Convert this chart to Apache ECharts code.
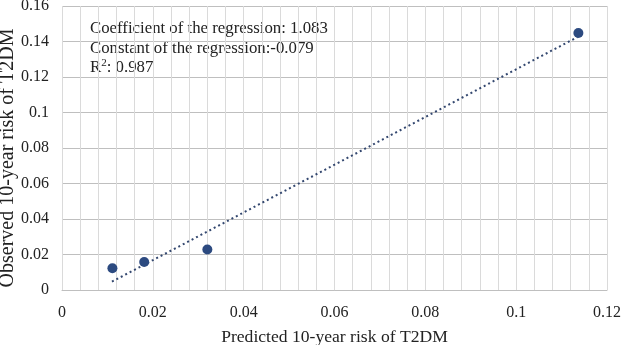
<!DOCTYPE html>
<html>
<head>
<meta charset="utf-8">
<script src="https://cdn.jsdelivr.net/npm/echarts@6/dist/echarts.min.js"></script>
<style>
html, body { margin: 0; padding: 0; background: #fff; }
#main { width: 621px; height: 345px; }
</style>
</head>
<body>
<div id="main"></div>
<script>
// predicted vs observed 10-year risk
var predicted = [0.0111, 0.0181, 0.0320, 0.1137];
var observed = [0.0123, 0.0158, 0.0228, 0.1448];
// ends of the dotted trend line
var trendX = [0.011, 0.1135];
var trendY = [0.0047, 0.1425];
var xTicks = [0, 0.02, 0.04, 0.06, 0.08, 0.1, 0.12];
var yTicks = [0, 0.02, 0.04, 0.06, 0.08, 0.1, 0.12, 0.14, 0.16];

var pts = [];
for (var i = 0; i < predicted.length; i++) {
	pts.push([predicted[i], observed[i]]);
}
var trend = [];
for (var j = 0; j < trendX.length; j++) {
	trend.push([trendX[j], trendY[j]]);
}

var serif = '"Liberation Serif", "DejaVu Serif", serif';
var chart = echarts.init(document.getElementById('main'));
chart.setOption({
	animation: false,
	grid: {
		left: 62,
		right: 14,
		top: 6,
		bottom: 55,
		outerBoundsMode: 'none',
		containLabel: false
	},
	xAxis: {
		type: 'value',
		min: 0,
		max: 0.12,
		interval: 0.02,
		name: 'Predicted 10-year risk of T2DM',
		nameLocation: 'middle',
		nameGap: 38,
		nameMoveOverlap: false,
		nameTextStyle: { fontFamily: serif, fontSize: 17.6, color: '#222' },
		axisLine: { show: true, lineStyle: { color: '#bfbfbf', width: 1 } },
		axisTick: { show: false },
		axisLabel: {
			fontFamily: serif, fontSize: 16, color: '#222', margin: 15,
			formatter: function(v) {
				return xTicks.indexOf(+v.toFixed(2)) >= 0 ? String(+v.toFixed(2)) : '';
			}
		},
		splitLine: { show: true, lineStyle: { color: '#dadada', width: 1 } },
		minorTick: { show: false, splitNumber: 5 },
		minorSplitLine: { show: true, lineStyle: { color: '#dadada', width: 1 } }
	},
	yAxis: {
		type: 'value',
		min: 0,
		max: 0.16,
		interval: 0.02,
		axisLine: { show: false },
		axisTick: { show: false },
		axisLabel: {
			fontFamily: serif, fontSize: 16, color: '#222', margin: 13,
			formatter: function(v) {
				return yTicks.indexOf(+v.toFixed(2)) >= 0 ? String(+v.toFixed(2)) : '';
			}
		},
		splitLine: { show: true, lineStyle: { color: '#bfbfbf', width: 1 } }
	},
	graphic: [{
		type: 'text',
		left: 90,
		top: 19,
		style: {
			text: 'Coefficient of the regression: 1.083\nConstant of the regression:-0.079\n{r|R}{sup|2}{r|: 0.987}',
			font: '16.8px ' + serif,
			fill: '#222',
			lineHeight: 19.5,
			rich: {
				r: { fontFamily: serif, fontSize: 16.8, fill: '#222', lineHeight: 19.5 },
				sup: { fontFamily: serif, fontSize: 11, fill: '#222', verticalAlign: 'top', padding: [0, 0, 6, 0], lineHeight: 19.5 }
			}
		}
	}, {
		// y axis title
		type: 'text',
		x: 8,
		y: 158,
		rotation: Math.PI / 2,
		style: {
			text: 'Observed 10-year risk of T2DM',
			font: '20px ' + serif,
			fill: '#222',
			align: 'center',
			verticalAlign: 'middle'
		}
	}],
	series: [{
		type: 'line',
		data: trend,
		symbol: 'none',
		lineStyle: { color: '#33476f', width: 2, type: [2, 3] },
		z: 2
	}, {
		type: 'scatter',
		data: pts,
		symbol: 'circle',
		symbolSize: 10,
		itemStyle: { color: '#2c4a80', opacity: 1 },
		z: 3
	}]
});
</script>
</body>
</html>
